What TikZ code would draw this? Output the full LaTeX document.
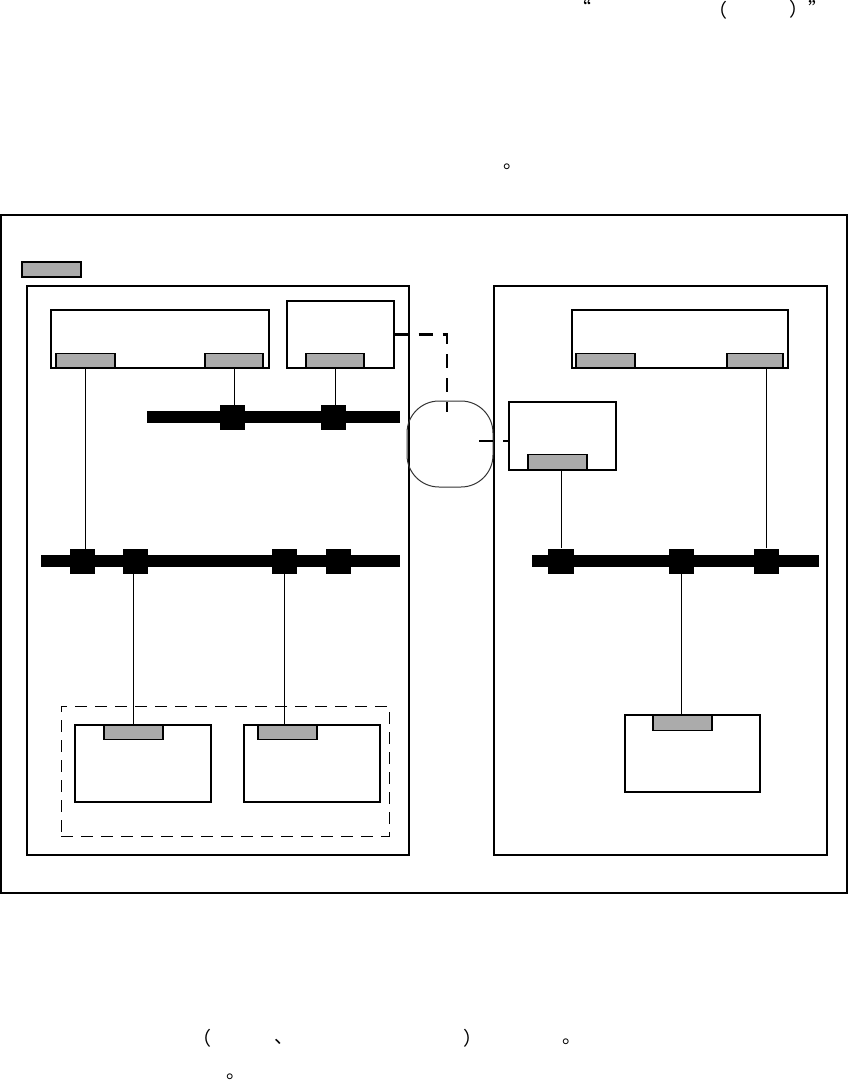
\documentclass[tikz,border=0pt]{standalone}
\usepackage{fontspec}
\newfontfamily\cjk{Noto Sans CJK SC}
\begin{document}
\begin{tikzpicture}[x=1pt,y=-1pt,
  box/.style={draw=black,line width=1.3pt,fill=white,rectangle,inner sep=0pt},
  port/.style={draw=black,line width=1.2pt,fill=black!33,rectangle,inner sep=0pt},
  bus/.style={fill=black,rectangle,inner sep=0pt,minimum height=12pt},
  sw/.style={fill=black,rectangle,inner sep=0pt,minimum width=25pt,minimum height=25pt},
  wire/.style={draw=black,line width=1pt},
  dlink/.style={draw=black,line width=2.4pt,dash pattern=on 14pt off 10pt},
  grp/.style={draw=black,line width=1pt,dash pattern=on 12pt off 8pt},
  punct/.style={inner sep=0pt,font=\cjk\fontsize{19}{19}\selectfont}]
\useasboundingbox (0,0) rectangle (850,1081);
% punctuation that the page prints
\node[punct] (q1) at (582,7) {“};
\node[punct] (p1) at (718,10) {（};
\node[punct,anchor=base west] (p2) at (789.5,17) {）”};
\node[punct] (s1) at (513,167) {。};
\node[punct] (p3) at (202,1038) {（};
\node[punct] (c1) at (284,1042) {、};
\node[punct] (p4) at (473,1038) {）};
\node[punct] (s2) at (572,1042) {。};
\node[punct] (s3) at (236,1077) {。};
% outer frame
\node[box,line width=1.3pt,minimum width=846pt,minimum height=678pt,fill=none] (outer) at (424,554) {};
\node[port,minimum width=59pt,minimum height=15pt] (legend) at (51.5,269.5) {};
% panels
\node[box,minimum width=382pt,minimum height=569pt] (lpanel) at (218,570.5) {};
\node[box,minimum width=333pt,minimum height=569pt] (rpanel) at (660.5,570.5) {};
% left top boxes
\node[box,minimum width=218pt,minimum height=58pt] (bA) at (160,339) {};
\node[port,minimum width=59pt,minimum height=14pt,anchor=south] (pA1) at (85.5,368) {};
\node[port,minimum width=58pt,minimum height=14pt,anchor=south] (pA2) at (234,368) {};
\node[box,minimum width=107pt,minimum height=67pt] (bB) at (340.5,334.5) {};
\node[port,minimum width=58pt,minimum height=14pt,anchor=south] (pB) at (335,368) {};
% top bus
\node[bus,minimum width=253pt] (busT) at (273.5,417) {};
\node[sw] (swT1) at (232.5,417.5) {};
\node[sw] (swT2) at (333.5,417.5) {};
% cloud
\node[draw=black!80,line width=1pt,rectangle,rounded corners=32pt,minimum width=86pt,minimum height=86pt,inner sep=0pt] (net) at (450,444) {};
% right top boxes
\node[box,minimum width=216pt,minimum height=58pt] (bD) at (680,339) {};
\node[port,minimum width=59pt,minimum height=14pt,anchor=south] (pD1) at (605.5,368) {};
\node[port,minimum width=56pt,minimum height=14pt,anchor=south] (pD2) at (755,368) {};
\node[box,minimum width=107pt,minimum height=68pt] (bC) at (562.5,436) {};
\node[port,minimum width=59pt,minimum height=15pt,anchor=south] (pC) at (557.5,470) {};
% main buses
\node[bus,minimum width=359pt] (busL) at (220.5,561) {};
\node[sw] (swL1) at (82.5,561.5) {};
\node[sw] (swL2) at (135.5,561.5) {};
\node[sw] (swL3) at (284.5,561.5) {};
\node[sw] (swL4) at (338.5,561.5) {};
\node[bus,minimum width=287pt] (busR) at (675.5,561) {};
\node[sw,minimum width=26pt] (swR1) at (561,561) {};
\node[sw] (swR2) at (681.5,561) {};
\node[sw] (swR3) at (766.5,561) {};
% bottom group
\node[grp,rectangle,minimum width=328pt,minimum height=130pt,inner sep=0pt] (grpE) at (225,771) {};
\node[box,minimum width=136pt,minimum height=77pt] (bE) at (143,763.5) {};
\node[port,minimum width=59pt,minimum height=14pt,anchor=north] (pE) at (133.5,725) {};
\node[box,minimum width=136pt,minimum height=77pt] (bF) at (312,763.5) {};
\node[port,minimum width=59pt,minimum height=14pt,anchor=north] (pF) at (287.5,725) {};
\node[box,minimum width=135pt,minimum height=77pt] (bG) at (692.5,753.5) {};
\node[port,minimum width=59pt,minimum height=15pt,anchor=north] (pG) at (682.5,715) {};
% wires
\draw[wire] (pA1.south) -- (pA1.south |- swL1.north);
\draw[wire] (pA2.south) -- (pA2.south |- swT1.north);
\draw[wire] (pB.south) -- (pB.south |- swT2.north);
\draw[wire] (pE.north) -- (pE.north |- swL2.south);
\draw[wire] (swL3.south) -- (swL3.south |- pF.north);
\draw[wire] (swR1.north) -- (swR1.north |- pC.south);
\draw[wire] (swR3.north) -- (swR3.north |- pD2.south);
\draw[wire] (swR2.south) -- (swR2.south |- pG.north);
% dashed links to the cloud
\coordinate (dIn1) at (447,412);
\coordinate (dIn2) at (479,441);
\draw[dlink] (bB.east) -- (bB.east -| dIn1) -- (dIn1);
\draw[dlink] (dIn2) -- (dIn2 -| bC.west);
\end{tikzpicture}
\end{document}
